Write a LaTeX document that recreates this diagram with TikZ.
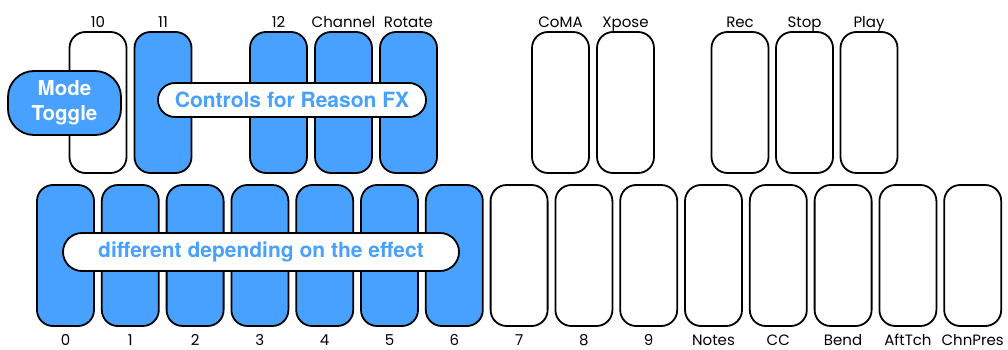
\documentclass[tikz,border=0pt]{standalone}
\usepackage{fontspec}
\usepackage{tikz}
\usetikzlibrary{positioning}
\newfontfamily\keyfont{Poppins}
\newfontfamily\pillfont{TeX Gyre Heros}
\definecolor{padblue}{RGB}{72,160,255}
\tikzset{
    pad/.style = {rectangle, rounded corners=16pt, line width=1.8pt, draw=black, fill=white, minimum width=57pt, minimum height=141pt, inner sep=0pt},
    padb/.style = {pad, fill=padblue},
    keylab/.style = {font=\keyfont\fontsize{15}{15}\selectfont, text height=11pt, text depth=0pt, inner sep=0pt},
    up/.style = {label={[keylab, label distance=3pt]above:#1}},
    down/.style = {label={[keylab, label distance=7.5pt]below:#1}},
    pill/.style = {rectangle, rounded corners=17pt, line width=1.8pt, draw=black, fill=white, text=padblue, font=\pillfont\bfseries\fontsize{21}{21}\selectfont, inner sep=0pt},
    modebox/.style = {rectangle, rounded corners=26pt, line width=1.8pt, draw=black, fill=padblue, text=white, align=center, font=\pillfont\bfseries\fontsize{20.5}{25}\selectfont, minimum width=113pt, minimum height=64pt, inner sep=0pt}
}
\begin{document}
\begin{tikzpicture}[x=1pt,y=-1pt]
\useasboundingbox (0,0) rectangle (1008,350);
%
% top row
\node[pad, up=10] at (98,102.5) (k10) {};
\node[padb, up=11] at (163,102.5) (k11) {};
\node[padb, up=12] at (278.5,102.5) (k12) {};
\node[padb, up=Channel] at (343.5,102.5) (chan) {};
\node[padb, up=Rotate] at (408.5,102.5) (rot) {};
\node[pad, up=CoMA] at (560.5,102.5) (coma) {};
\node[pad, up=Xpose] at (625.5,102.5) (xpose) {};
\node[pad, up=Rec] at (740,102.5) (rec) {};
\node[pad, up=Stop] at (804.5,102.5) (stop) {};
\node[pad, up=Play] at (869,102.5) (play) {};
%
% bottom row
\node[padb, down=0] at (65.5,255.5) (k0) {};
\node[padb, down=1] at (130.3,255.5) (k1) {};
\node[padb, down=2] at (195.1,255.5) (k2) {};
\node[padb, down=3] at (259.9,255.5) (k3) {};
\node[padb, down=4] at (324.7,255.5) (k4) {};
\node[padb, down=5] at (389.5,255.5) (k5) {};
\node[padb, down=6] at (454.3,255.5) (k6) {};
\node[pad, down=7] at (519.1,255.5) (k7) {};
\node[pad, down=8] at (583.9,255.5) (k8) {};
\node[pad, down=9] at (648.7,255.5) (k9) {};
\node[pad, down=Notes] at (713.5,255.5) (notes) {};
\node[pad, down=CC] at (778.3,255.5) (cc) {};
\node[pad, down=Bend] at (843.1,255.5) (bend) {};
\node[pad, down=AftTch] at (907.9,255.5) (aft) {};
\node[pad, down=ChnPres] at (972.7,255.5) (chn) {};
%
% overlays
\node[modebox] at (64.5,103) (mode) {Mode\\Toggle};
\node[pill, minimum width=268pt, minimum height=34pt] at (292,100) (fx) {Controls for Reason FX};
\node[pill, rounded corners=19pt, minimum width=396pt, minimum height=38pt] at (261,252) (effect) {different depending on the effect};
\end{tikzpicture}
\end{document}
